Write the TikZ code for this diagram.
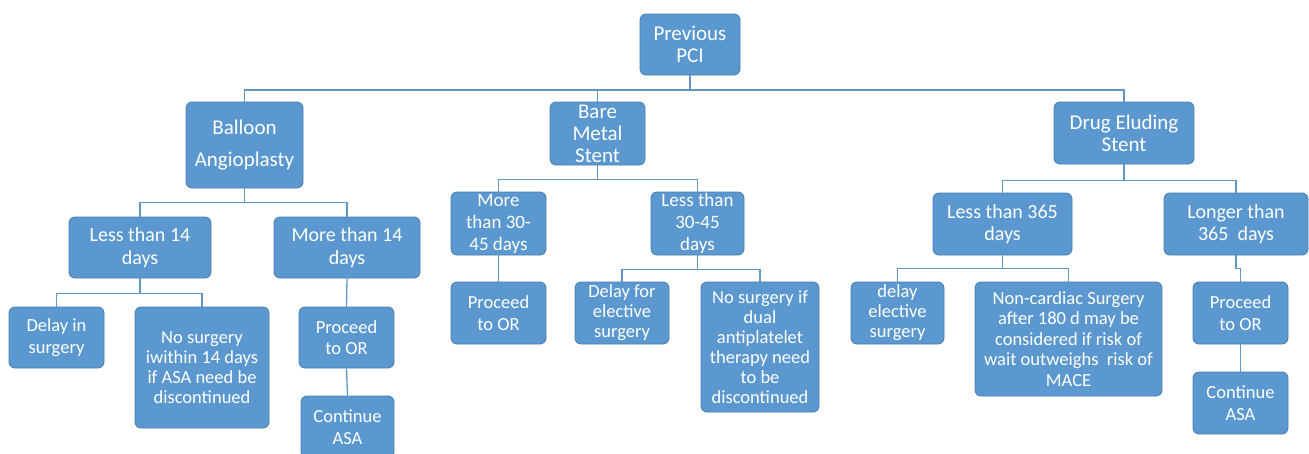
\documentclass[tikz,border=0pt]{standalone}
\usepackage{fontspec}
\setmainfont{Carlito}
\definecolor{boxfill}{RGB}{91,152,207}
\definecolor{boxline}{RGB}{72,124,172}
\definecolor{linkblue}{RGB}{96,150,200}
\begin{document}
\begin{tikzpicture}[x=1pt, y=-1pt, every text node part/.style={align=center}]
        \tikzset{
          pcibox/.style={draw=boxline, fill=boxfill, line width=0.8pt, rounded corners=6pt,
            text=white, inner sep=0pt, font=\fontsize{18.5}{21.5}\selectfont},
          topbox/.style={pcibox, font=\fontsize{21}{22}\selectfont},
          midbox/.style={pcibox, font=\fontsize{20}{22.5}\selectfont},
          link/.style={draw=linkblue, line width=1.3pt},
        }
        \useasboundingbox (0,0) rectangle (1309,453);
        \node [topbox, minimum width=100pt, minimum height=61pt] (pci) at (690,44.5) {Previous\\PCI};
        % 
        \node [topbox, minimum width=117pt, minimum height=86pt, font=\fontsize{21}{32}\selectfont] (bal) at (244.5,145) {Balloon\\Angioplasty};
        \node [topbox, minimum width=95pt, minimum height=63pt] (bms) at (597.5,133.5) {Bare\\Metal\\Stent};
        \node [topbox, minimum width=140pt, minimum height=62pt] (des) at (1124,133) {Drug Eluding\\Stent};
        \draw [link] (pci.south) -- ++(0,14.5) -| (bal.north);
        \draw [link] (pci.south) -- ++(0,14.5) -| (bms.north);
        \draw [link] (pci.south) -- ++(0,14.5) -| (des.north);
        % 
        \node [midbox, minimum width=142pt, minimum height=61pt] (lt14) at (140,247.5) {Less than 14\\days};
        \node [midbox, minimum width=146pt, minimum height=61pt] (mt14) at (347,247.5) {More than 14\\days};
        \draw [link] (bal.south) -- ++(0,14) -| (lt14.north);
        \draw [link] (bal.south) -- ++(0,14) -| (mt14.north);
        \node [pcibox, minimum width=95pt, minimum height=61pt] (delayin) at (56.5,337.5) {Delay in\\surgery};
        \node [pcibox, minimum width=134pt, minimum height=121pt, font=\fontsize{18.5}{20}\selectfont] (noasa) at (202,367.5) {No surgery\\iwithin 14 days\\if ASA need be\\discontinued};
        \draw [link] (lt14.south) -- ++(0,15) -| (delayin.north);
        \draw [link] (lt14.south) -- ++(0,15) -| (noasa.north);
        \node [pcibox, minimum width=95pt, minimum height=61pt] (procbal) at (346.5,337.5) {Proceed\\to OR};
        \node [pcibox, minimum width=93pt, minimum height=62pt] (contbal) at (347.5,427) {Continue\\ASA};
        \draw [link] (mt14.south) -- (procbal.north);
        \draw [link] (procbal.south) -- (contbal.north);
        % 
        \node [pcibox, minimum width=95pt, minimum height=63pt, font=\fontsize{19}{22}\selectfont] (mt30) at (498.5,223.5) {More\\than 30-\\45 days};
        \node [pcibox, minimum width=93pt, minimum height=63pt, font=\fontsize{19}{22}\selectfont] (lt30) at (697.5,223.5) {Less than\\30-45\\days};
        \draw [link] (bms.south) -- ++(0,14) -| (mt30.north);
        \draw [link] (bms.south) -- ++(0,14) -| (lt30.north);
        \node [pcibox, minimum width=95pt, minimum height=62pt] (procbms) at (498.5,313) {Proceed\\to OR};
        \draw [link] (mt30.south) -- (procbms.north);
        \node [pcibox, minimum width=94pt, minimum height=62pt, font=\fontsize{18.5}{20}\selectfont] (delayfor) at (622,313) {Delay for\\elective\\surgery};
        \node [pcibox, minimum width=118pt, minimum height=130pt, font=\fontsize{18.5}{20}\selectfont] (nodapt) at (760,347) {No surgery if\\dual\\antiplatelet\\therapy need\\to be\\discontinued};
        \draw [link] (lt30.south) -- ++(0,14) -| (delayfor.north);
        \draw [link] (lt30.south) -- ++(0,14) -| (nodapt.north);
        % 
        \node [midbox, minimum width=139pt, minimum height=62pt] (lt365) at (1002.5,224) {Less than 365\\days};
        \node [midbox, minimum width=144pt, minimum height=62pt] (gt365) at (1236,224) {Longer than\\365~ days};
        \draw [link] (des.south) -- ++(0,16) -| (lt365.north);
        \draw [link] (des.south) -- ++(0,16) -| (gt365.north);
        \node [pcibox, minimum width=93pt, minimum height=62pt, font=\fontsize{18.5}{20}\selectfont] (delayel) at (897.5,313) {delay\\elective\\surgery};
        \node [pcibox, minimum width=187pt, minimum height=114pt, font=\fontsize{18.5}{20.5}\selectfont] (mace) at (1068.5,339) {Non-cardiac Surgery\\after 180 d may be\\considered if risk of\\wait outweighs~ risk of\\MACE};
        \draw [link] (lt365.south) -- ++(0,13) -| (delayel.north);
        \draw [link] (lt365.south) -- ++(0,13) -| (mace.north);
        \node [pcibox, minimum width=95pt, minimum height=62pt] (procdes) at (1240.5,313) {Proceed\\to OR};
        \node [pcibox, minimum width=95pt, minimum height=62pt] (contdes) at (1240.5,403) {Continue\\ASA};
        \draw [link] (gt365.south) -- ++(0,13) -| (procdes.north);
        \draw [link] (procdes.south) -- (contdes.north);
    \end{tikzpicture}
\end{document}
